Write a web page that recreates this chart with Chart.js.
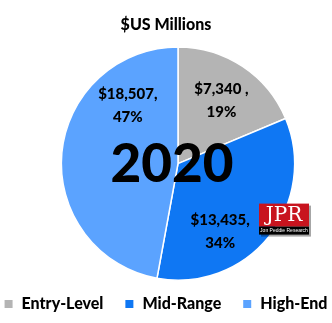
<!DOCTYPE html>
<html>
<head>
<meta charset="utf-8">
<script src="https://cdn.jsdelivr.net/npm/chart.js@4"></script>
<style>
  html, body { margin: 0; padding: 0; background: #fff; }
  #wrap { width: 332px; height: 323px; }
</style>
</head>
<body>
<div id="wrap"><canvas id="pieChart"></canvas></div>
<script>
// dados do gráfico
const categories = ['Entry-Level', 'Mid-Range', 'High-End'];
const values = [7340, 13435, 18507];
const percents = ['19%', '34%', '47%'];
const valueLabels = ['$7,340 ,', '$13,435,', '$18,507,'];
const yearLabel = '2020';

const colors = ['#b4b4b4', '#0f77f3', '#5ba3ff'];
const fontFam = 'Lato, "Open Sans", sans-serif';

// posição dos rótulos dentro de cada fatia (fração do ângulo, fração do raio)
const labelAngleFrac = [0.51, 0.655, 0.76];
const labelRadiusFrac = [0.66, 0.68, 0.66];

// desloca o centro da pizza para a direita, como no original
const shiftPie = {
    id: 'shiftPie',
    afterLayout(chart) {
        chart.chartArea.left += 24;
        chart.chartArea.width = chart.chartArea.right - chart.chartArea.left;
    }
};

// legenda desenhada à mão (a do Chart.js quebrava em duas linhas)
const bottomLegend = {
    id: 'bottomLegend',
    afterDraw(chart) {
        const ctx = chart.ctx;
        const labels = chart.data.labels;
        const bg = chart.data.datasets[0].backgroundColor;
        ctx.save();
        ctx.font = '900 16px ' + fontFam;
        ctx.textBaseline = 'middle';
        ctx.textAlign = 'left';
        const box = 8, gapIn = 9, gapOut = 22;
        const widths = labels.map(l => ctx.measureText(l).width);
        let total = widths.reduce((s, w) => s + box + gapIn + w, 0) + gapOut * (labels.length - 1);
        let x = (chart.width - total) / 2;
        const y = 304;
        labels.forEach((l, i) => {
            ctx.fillStyle = bg[i];
            ctx.fillRect(x, y - 4, box, box);
            ctx.fillStyle = '#000';
            ctx.fillText(l, x + box + gapIn, y);
            x += box + gapIn + widths[i] + gapOut;
        });
        ctx.restore();
    }
};

// rótulos de valor + texto central + logo
const overlay = {
    id: 'overlay',
    afterDatasetsDraw(chart) {
        const ctx = chart.ctx;
        const arcs = chart.getDatasetMeta(0).data;
        ctx.save();
        ctx.fillStyle = '#000';
        ctx.textAlign = 'center';
        ctx.textBaseline = 'middle';
        ctx.font = '900 15px ' + fontFam;
        arcs.forEach((arc, i) => {
            const a = arc.startAngle + (arc.endAngle - arc.startAngle) * labelAngleFrac[i];
            const r = arc.outerRadius * labelRadiusFrac[i];
            const x = arc.x + Math.cos(a) * r;
            const y = arc.y + Math.sin(a) * r;
            ctx.fillText(valueLabels[i], x, y - 11);
            ctx.fillText(percents[i], x, y + 12);
        });

        // ano no meio
        const c = arcs[0];
        ctx.font = '900 53px ' + fontFam;
        ctx.fillText(yearLabel, c.x - 6, c.y + 1);

        // logo JPR
        const lx = c.x + 81, ly = c.y + 40;
        ctx.fillStyle = 'rgba(0,0,0,0.35)';
        ctx.fillRect(lx + 2, ly + 2, 50, 31);
        ctx.fillStyle = '#c8141e';
        ctx.fillRect(lx, ly, 50, 23);
        ctx.fillStyle = '#000';
        ctx.fillRect(lx, ly + 23, 50, 8);
        ctx.fillStyle = '#fff';
        ctx.font = '20px "DejaVu Serif", "Liberation Serif", serif';
        ctx.fillText('JPR', lx + 25, ly + 12);
        ctx.font = '5px "Liberation Sans", sans-serif';
        ctx.fillText('Jon Peddie Research', lx + 25, ly + 27);
        ctx.restore();
    }
};

const ctx = document.getElementById('pieChart').getContext('2d');

const pieChart = new Chart(ctx, {
    type: 'pie',
    data: {
        labels: categories,
        datasets: [{
            data: values,
            backgroundColor: colors,
            borderColor: '#ffffff',
            borderWidth: 1.5
        }]
    },
    options: {
        responsive: true,
        maintainAspectRatio: false,
        animation: false,
        layout: { padding: { top: 0, bottom: 42, left: 0, right: 0 } },
        plugins: {
            title: {
                display: true,
                text: '$US Millions',
                color: '#000',
                font: { family: fontFam, size: 16, weight: 900 },
                padding: { top: 15, bottom: 12 }
            },
            legend: { display: false },
            tooltip: { enabled: false }
        }
    },
    plugins: [shiftPie, overlay, bottomLegend]
});
</script>
</body>
</html>
